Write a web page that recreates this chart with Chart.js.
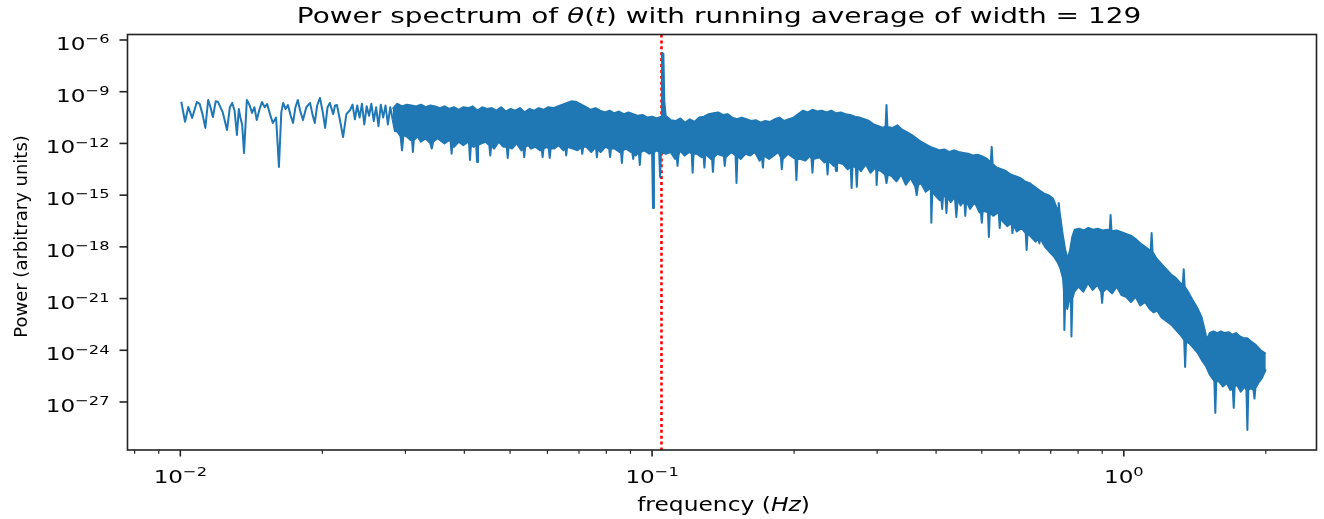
<!DOCTYPE html>
<html>
<head>
<meta charset="utf-8">
<title>Power spectrum</title>
<script src="https://cdn.jsdelivr.net/npm/chart.js@4.4.1/dist/chart.umd.min.js"></script>
<style>
  html, body { margin: 0; padding: 0; background: #fff; }
  #wrap { width: 1324px; height: 519px; }
</style>
</head>
<body>
<div id="wrap"><canvas id="spectrum"></canvas></div>
<script>
// each pair is [log10(frequency / Hz), log10(power)]

// sparse low-frequency part: the single wiggly trace
const lowFreqTrace = [
  [-1.998,-9.58],[-1.990,-10.74],[-1.983,-9.89],[-1.975,-10.52],[-1.965,-9.60],[-1.959,-9.71],[-1.953,-10.30],[-1.947,-11.10],[-1.941,-9.48],[-1.936,-9.90],
  [-1.931,-10.47],[-1.925,-9.55],[-1.920,-9.60],[-1.910,-10.20],[-1.901,-11.22],[-1.895,-9.90],[-1.890,-9.65],[-1.885,-10.10],[-1.880,-11.51],[-1.876,-10.00],
  [-1.873,-10.47],[-1.869,-10.90],[-1.865,-12.55],[-1.859,-9.48],[-1.853,-9.80],[-1.848,-10.23],[-1.843,-9.90],[-1.838,-10.64],[-1.832,-10.00],[-1.827,-9.60],
  [-1.821,-9.90],[-1.816,-9.71],[-1.810,-10.30],[-1.804,-10.81],[-1.797,-10.50],[-1.791,-13.37],[-1.786,-10.20],[-1.782,-9.65],[-1.777,-10.00],[-1.772,-9.77],
  [-1.766,-10.40],[-1.761,-10.81],[-1.756,-9.90],[-1.751,-9.48],[-1.746,-10.10],[-1.740,-10.64],[-1.733,-9.90],[-1.725,-9.65],[-1.720,-10.30],[-1.715,-10.81],
  [-1.710,-9.80],[-1.704,-9.36],[-1.698,-10.20],[-1.693,-11.10],[-1.688,-9.90],[-1.683,-9.65],[-1.676,-10.30],[-1.672,-9.80],[-1.668,-9.77],[-1.662,-10.60],
  [-1.655,-11.63],[-1.648,-10.30],[-1.640,-10.06],
  [-1.635,-9.75],[-1.630,-10.6],[-1.625,-9.8],[-1.620,-10.5],[-1.615,-9.7],[-1.610,-10.9],[-1.605,-9.85],[-1.600,-10.4],
  [-1.595,-9.7],[-1.590,-10.7],[-1.585,-9.9],[-1.580,-11.0],[-1.575,-9.75],[-1.570,-10.5],[-1.565,-9.8],[-1.560,-10.9],[-1.555,-9.9],[-1.550,-10.6]
];

// dense part: top edge of the band (with the upward spikes)
const bandUpper = [
  [-1.550,-10.0],[-1.540,-9.7],[-1.530,-9.85],[-1.520,-9.75],[-1.510,-9.8],[-1.500,-9.85],[-1.490,-9.75],[-1.480,-9.9],[-1.470,-9.8],[-1.460,-9.85],
  [-1.450,-9.95],[-1.440,-9.85],[-1.430,-10.0],[-1.420,-9.9],[-1.410,-10.05],[-1.400,-9.9],[-1.390,-9.95],[-1.380,-9.85],[-1.370,-10.1],[-1.360,-9.9],
  [-1.350,-10.0],[-1.340,-9.95],[-1.330,-10.1],[-1.320,-9.9],[-1.310,-10.15],[-1.300,-10.0],[-1.290,-10.1],[-1.280,-9.95],[-1.270,-10.2],[-1.260,-10.0],
  [-1.250,-10.1],[-1.240,-9.95],[-1.230,-10.05],[-1.220,-9.9],[-1.210,-9.95],[-1.200,-9.85],[-1.190,-9.75],[-1.180,-9.65],[-1.170,-9.55],[-1.160,-9.6],
  [-1.150,-9.75],[-1.140,-9.9],[-1.130,-10.05],[-1.120,-9.95],[-1.110,-10.1],[-1.100,-10.2],[-1.090,-10.1],[-1.080,-10.25],[-1.070,-10.15],[-1.060,-10.3],
  [-1.050,-10.2],[-1.040,-10.3],[-1.030,-10.4],[-1.020,-10.35],[-1.010,-10.5],[-1.000,-10.45],[-0.990,-10.55],[-0.981,-10.45],[-0.979,-6.75],[-0.976,-6.8],
  [-0.974,-9.6],[-0.971,-10.4],[-0.960,-10.65],[-0.950,-10.7],[-0.940,-10.55],[-0.930,-10.8],[-0.920,-10.6],[-0.910,-10.75],[-0.900,-10.5],[-0.890,-10.45],
  [-0.880,-10.3],[-0.870,-10.25],[-0.860,-10.2],[-0.850,-10.35],[-0.840,-10.3],[-0.830,-10.5],[-0.820,-10.6],[-0.810,-10.5],[-0.800,-10.6],[-0.790,-10.7],
  [-0.780,-10.65],[-0.770,-10.8],[-0.760,-10.7],[-0.750,-10.75],[-0.740,-10.6],[-0.730,-10.5],[-0.720,-10.7],[-0.710,-10.6],[-0.700,-10.5],[-0.690,-10.3],
  [-0.680,-10.1],[-0.670,-10.2],[-0.660,-10.05],[-0.650,-10.15],[-0.640,-10.1],[-0.630,-10.2],[-0.620,-10.1],[-0.610,-10.25],[-0.600,-10.2],[-0.590,-10.3],
  [-0.580,-10.35],[-0.570,-10.45],[-0.560,-10.5],[-0.550,-10.6],[-0.540,-10.7],[-0.530,-10.9],[-0.520,-11.0],[-0.510,-11.1],[-0.505,-11.0],[-0.503,-9.77],
  [-0.501,-11.05],[-0.490,-11.1],[-0.480,-10.95],[-0.470,-11.2],[-0.460,-11.35],[-0.450,-11.5],[-0.440,-11.7],[-0.430,-11.9],[-0.420,-12.05],[-0.410,-12.2],
  [-0.400,-12.3],[-0.390,-12.4],[-0.380,-12.35],[-0.370,-12.5],[-0.360,-12.4],[-0.350,-12.5],[-0.340,-12.55],[-0.330,-12.6],[-0.320,-12.7],[-0.310,-12.65],
  [-0.300,-12.75],[-0.290,-12.9],[-0.282,-13.1],[-0.280,-12.2],[-0.278,-13.2],[-0.270,-13.4],[-0.260,-13.5],[-0.250,-13.6],[-0.240,-13.8],[-0.230,-13.9],
  [-0.220,-14.0],[-0.210,-14.2],[-0.200,-14.3],[-0.190,-14.5],[-0.180,-14.7],[-0.170,-14.9],[-0.160,-15.0],[-0.150,-15.2],[-0.143,-15.7],[-0.139,-15.9],
  [-0.138,-15.45],[-0.136,-16.0],[-0.130,-17.2],[-0.124,-18.2],[-0.119,-18.7],[-0.114,-18.2],[-0.109,-17.4],[-0.104,-17.0],[-0.095,-16.95],[-0.085,-17.05],
  [-0.075,-16.9],[-0.065,-17.0],[-0.055,-16.95],[-0.045,-17.05],[-0.035,-17.0],[-0.030,-17.1],[-0.028,-16.15],[-0.026,-17.1],[-0.015,-17.05],[-0.005,-17.15],
  [0.005,-17.25],[0.015,-17.35],[0.025,-17.55],[0.035,-17.8],[0.045,-18.0],[0.055,-18.2],[0.057,-18.25],[0.059,-17.2],[0.061,-18.3],[0.070,-18.7],
  [0.080,-19.0],[0.090,-19.3],[0.100,-19.6],[0.110,-19.8],[0.120,-20.1],[0.125,-20.2],[0.127,-19.3],[0.129,-20.3],[0.138,-20.7],[0.146,-21.1],
  [0.155,-21.5],[0.165,-22.1],[0.172,-22.9],[0.176,-23.4],[0.182,-23.0],[0.190,-22.9],[0.198,-23.0],[0.206,-22.9],[0.214,-23.0],[0.222,-22.95],
  [0.230,-23.1],[0.238,-23.0],[0.246,-23.2],[0.254,-23.3],[0.262,-23.3],[0.270,-23.5],[0.280,-23.7],[0.290,-24.0],[0.301,-24.2]
];

// dense part: bottom edge of the band (with the downward spikes)
const bandLower = [
  [-1.550,-10.6],[-1.545,-11.3],[-1.540,-11.3],[-1.533,-11.6],[-1.530,-12.4],[-1.527,-11.5],[-1.520,-11.6],[-1.512,-11.8],[-1.509,-11.7],[-1.507,-12.5],
  [-1.505,-11.8],[-1.497,-11.6],[-1.490,-11.9],[-1.480,-11.7],[-1.470,-12.0],[-1.467,-12.3],[-1.464,-11.9],[-1.455,-11.7],
  [-1.450,-11.8],[-1.440,-12.0],[-1.430,-11.8],[-1.427,-11.9],[-1.425,-12.6],[-1.423,-11.9],[-1.420,-12.2],[-1.410,-11.9],[-1.400,-12.1],[-1.390,-11.9],
  [-1.388,-12.0],[-1.386,-12.96],[-1.384,-12.1],[-1.378,-12.2],[-1.373,-12.0],[-1.371,-13.08],[-1.369,-12.1],[-1.362,-12.0],[-1.353,-11.9],[-1.345,-12.1],
  [-1.343,-12.7],[-1.341,-12.1],[-1.335,-12.3],[-1.325,-11.9],[-1.315,-12.2],[-1.308,-12.2],[-1.306,-12.84],[-1.304,-12.2],[-1.297,-12.3],[-1.287,-12.0],
  [-1.277,-12.4],[-1.273,-12.2],[-1.271,-12.8],[-1.269,-12.2],[-1.262,-12.1],[-1.257,-12.3],[-1.247,-12.2],[-1.237,-12.4],[-1.234,-12.3],[-1.232,-12.79],
  [-1.230,-12.3],[-1.223,-12.2],[-1.219,-12.3],[-1.217,-12.84],[-1.215,-12.3],[-1.208,-12.3],[-1.198,-12.1],[-1.188,-12.4],[-1.184,-12.2],[-1.182,-12.7],
  [-1.180,-12.2],[-1.168,-12.3],[-1.158,-12.4],[-1.150,-12.2],[-1.148,-12.6],[-1.146,-12.2],[-1.139,-12.2],[-1.129,-12.5],[-1.119,-12.2],[-1.117,-12.8],
  [-1.115,-12.3],[-1.109,-12.5],[-1.099,-12.2],[-1.091,-12.3],[-1.089,-12.79],[-1.087,-12.3],[-1.079,-12.3],[-1.069,-12.5],[-1.066,-12.4],[-1.064,-13.13],
  [-1.062,-12.4],[-1.055,-12.3],[-1.045,-12.5],[-1.042,-12.5],[-1.040,-12.9],[-1.038,-12.5],[-1.035,-12.7],[-1.028,-12.5],[-1.026,-13.25],[-1.024,-12.5],
  [-1.016,-12.4],[-1.006,-12.6],[-1.000,-12.5],[-0.998,-15.74],[-0.996,-12.5],
  [-0.990,-12.4],[-0.985,-12.5],[-0.983,-13.95],[-0.981,-12.5],[-0.971,-12.6],[-0.961,-12.5],[-0.951,-12.9],[-0.948,-12.7],[-0.946,-13.3],[-0.944,-12.7],
  [-0.941,-12.4],[-0.931,-12.7],[-0.921,-12.5],[-0.916,-12.6],[-0.914,-13.7],[-0.912,-12.6],[-0.905,-12.6],[-0.895,-12.8],[-0.891,-12.7],[-0.889,-13.4],
  [-0.887,-12.6],[-0.875,-12.9],[-0.873,-12.8],[-0.871,-13.65],[-0.869,-12.8],[-0.862,-12.6],[-0.852,-12.7],[-0.848,-12.7],[-0.846,-13.3],[-0.844,-12.8],
  [-0.832,-12.5],[-0.823,-12.7],[-0.821,-14.29],[-0.819,-12.7],[-0.812,-12.9],[-0.802,-12.6],[-0.792,-12.7],[-0.782,-12.5],[-0.772,-13.0],[-0.767,-12.8],
  [-0.765,-13.4],[-0.763,-12.7],[-0.752,-12.9],[-0.742,-12.7],[-0.732,-12.5],[-0.727,-12.8],[-0.725,-13.5],[-0.723,-12.9],[-0.712,-12.6],[-0.702,-12.8],
  [-0.696,-12.9],[-0.694,-14.12],[-0.692,-12.9],[-0.685,-12.9],[-0.675,-13.0],[-0.665,-12.7],[-0.662,-12.9],[-0.660,-13.7],[-0.658,-12.9],[-0.645,-12.8],
  [-0.635,-13.1],[-0.630,-13.0],[-0.628,-13.8],[-0.626,-13.0],[-0.615,-13.3],[-0.612,-13.2],[-0.610,-13.6],[-0.608,-13.1],[-0.595,-13.2],[-0.585,-13.5],
  [-0.579,-13.3],[-0.577,-14.58],[-0.575,-13.3],[-0.568,-13.4],[-0.566,-14.52],[-0.564,-13.4],[-0.557,-13.6],[-0.547,-13.2],[-0.537,-13.7],[-0.527,-13.4],
  [-0.525,-13.5],[-0.524,-14.41],[-0.522,-13.5],[-0.515,-13.6],[-0.506,-13.8],[-0.503,-14.3],[-0.500,-13.8],
  [-0.492,-13.9],[-0.482,-14.2],[-0.472,-13.8],[-0.462,-14.4],[-0.452,-14.0],[-0.442,-14.5],[-0.439,-15.0],[-0.436,-14.4],[-0.430,-14.3],[-0.420,-14.8],
  [-0.411,-14.6],[-0.409,-14.7],[-0.408,-16.6],[-0.406,-14.8],[-0.400,-15.0],[-0.390,-15.3],[-0.387,-15.1],[-0.385,-15.8],[-0.383,-15.0],[-0.378,-15.1],
  [-0.376,-16.03],[-0.374,-15.1],[-0.367,-15.4],[-0.358,-15.1],[-0.355,-16.27],[-0.352,-15.2],[-0.346,-15.6],[-0.338,-15.3],[-0.336,-16.2],[-0.334,-15.3],
  [-0.326,-15.8],[-0.316,-15.4],[-0.306,-16.0],[-0.303,-15.9],[-0.301,-16.6],[-0.299,-15.9],[-0.288,-16.0],[-0.286,-17.43],[-0.284,-16.0],[-0.277,-16.2],
  [-0.267,-16.0],[-0.265,-16.1],[-0.263,-16.9],[-0.261,-16.2],[-0.257,-16.5],[-0.247,-16.8],[-0.238,-16.6],[-0.236,-17.2],[-0.234,-16.7],[-0.227,-17.1],
  [-0.217,-16.9],[-0.208,-17.2],[-0.206,-18.18],[-0.204,-17.2],[-0.197,-17.4],[-0.187,-17.7],[-0.181,-17.5],[-0.179,-17.8],[-0.177,-17.5],[-0.167,-18.0],
  [-0.157,-18.3],[-0.147,-18.6],[-0.140,-18.9],[-0.135,-19.2],[-0.129,-19.8],[-0.127,-20.5],[-0.126,-22.82],[-0.124,-21.0],[-0.120,-21.6],[-0.114,-20.9],
  [-0.112,-21.2],[-0.111,-23.2],[-0.109,-21.0],[-0.105,-20.6],[-0.096,-20.3],[-0.086,-20.6],[-0.076,-20.1],[-0.066,-20.5],[-0.056,-20.2],[-0.048,-20.6],
  [-0.046,-21.25],[-0.044,-20.6],[-0.036,-20.4],[-0.025,-20.7],[-0.015,-20.3],[-0.005,-20.8],[0.005,-20.9],[0.015,-21.2],[0.025,-20.9],[0.035,-21.4],
  [0.045,-21.2],[0.055,-21.6],[0.063,-21.8],[0.071,-21.7],[0.080,-22.1],[0.090,-22.3],[0.100,-22.5],[0.110,-22.8],[0.120,-23.1],[0.128,-23.4],
  [0.130,-24.97],[0.132,-23.5],[0.139,-23.6],[0.149,-23.9],[0.158,-24.2],[0.166,-24.6],[0.174,-24.9],[0.182,-25.4],[0.190,-25.7],[0.192,-25.8],
  [0.194,-27.63],[0.196,-25.8],[0.202,-25.8],[0.210,-26.1],[0.218,-25.9],[0.226,-26.3],[0.231,-26.2],[0.233,-27.34],[0.235,-26.1],[0.240,-26.0],
  [0.248,-26.4],[0.256,-26.1],[0.260,-26.3],[0.262,-28.62],[0.264,-26.3],[0.269,-26.2],[0.275,-26.3],[0.277,-26.8],[0.279,-26.2],[0.285,-25.9],
  [0.293,-25.6],[0.301,-25.1]
];

// axes
const yTickExps = [-6, -9, -12, -15, -18, -21, -24, -27];
const xMajorExps = [-2, -1, 0];
const xMinorTicks = [0.008, 0.009, 0.02, 0.03, 0.04, 0.05, 0.06, 0.07, 0.08, 0.09,
                     0.2, 0.3, 0.4, 0.5, 0.6, 0.7, 0.8, 0.9, 2];
const xRangeLog = [-2.112, 0.4085];
const yRangeLog = [-29.785, -5.681];
const markerFreq = 0.1047; // red dotted line

const FONT = '"DejaVu Sans", sans-serif';
const BLUE = '#1f77b4';

const toPoints = arr => arr.map(p => ({ x: Math.pow(10, p[0]), y: Math.pow(10, p[1]) }));

// text with mixed upright/italic/superscript pieces
function drawRich(ctx, parts, x, y, align, stretch) {
    ctx.save();
    let total = 0;
    parts.forEach(p => {
        ctx.font = (p.italic ? 'italic ' : '') + p.size + 'px ' + FONT;
        p.w = ctx.measureText(p.text).width;
        total += p.w;
    });
    ctx.translate(x, y);
    ctx.scale(stretch, 1);
    let cx = align === 'center' ? -total / 2 : (align === 'right' ? -total : 0);
    ctx.textAlign = 'left';
    ctx.textBaseline = 'alphabetic';
    ctx.fillStyle = '#000';
    parts.forEach(p => {
        ctx.font = (p.italic ? 'italic ' : '') + p.size + 'px ' + FONT;
        ctx.fillText(p.text, cx, -(p.rise || 0));
        cx += p.w;
    });
    ctx.restore();
}

function powerLabel(exp) {
    const sup = exp < 0 ? '\u2212' + Math.abs(exp) : String(exp);
    return [{ text: '10', size: 18.5 }, { text: sup, size: 13, rise: 6.7 }];
}

const markerLine = {
    id: 'markerLine',
    beforeDatasetsDraw(chart) {
        const { ctx, chartArea, scales } = chart;
        const x = scales.x.getPixelForValue(markerFreq);
        ctx.save();
        ctx.strokeStyle = '#ff0000';
        ctx.lineWidth = 2.6;
        ctx.setLineDash([3, 2.9]);
        ctx.beginPath();
        ctx.moveTo(x, chartArea.top);
        ctx.lineTo(x, chartArea.bottom);
        ctx.stroke();
        ctx.restore();
    }
};

const mplFrame = {
    id: 'mplFrame',
    afterDraw(chart) {
        const { ctx, chartArea: a, scales } = chart;
        ctx.save();
        ctx.strokeStyle = '#222';
        ctx.lineWidth = 1.6;
        ctx.strokeRect(a.left, a.top, a.right - a.left, a.bottom - a.top);

        // y ticks
        scales.y.ticks.forEach(t => {
            const y = scales.y.getPixelForValue(t.value);
            ctx.beginPath();
            ctx.moveTo(a.left - 8, y);
            ctx.lineTo(a.left, y);
            ctx.stroke();
            drawRich(ctx, powerLabel(Math.round(Math.log10(t.value))), a.left - 18, y + 10, 'right', 1.25);
        });

        // x ticks
        scales.x.ticks.forEach(t => {
            const x = scales.x.getPixelForValue(t.value);
            ctx.lineWidth = t.major ? 1.6 : 1.2;
            ctx.beginPath();
            ctx.moveTo(x, a.bottom);
            ctx.lineTo(x, a.bottom + (t.major ? 6.5 : 3.8));
            ctx.stroke();
            if (t.major) {
                drawRich(ctx, powerLabel(Math.round(Math.log10(t.value))), x, a.bottom + 32.7, 'center', 1.25);
            }
        });

        // title and axis labels
        drawRich(ctx, [
            { text: 'Power spectrum of ', size: 22 },
            { text: 'θ', size: 22, italic: true },
            { text: '(', size: 22 },
            { text: 't', size: 22, italic: true },
            { text: ') with running average of width = 129', size: 22 }
        ], 719, 23.3, 'center', 1.27);

        drawRich(ctx, [
            { text: 'frequency (', size: 19 },
            { text: 'Hz', size: 19, italic: true },
            { text: ')', size: 19 }
        ], 723.5, 511, 'center', 1.23);

        ctx.save();
        ctx.translate(26.7, 236.5);
        ctx.rotate(-Math.PI / 2);
        drawRich(ctx, [{ text: 'Power (arbitrary units)', size: 18 }], 0, 0, 'center', 1);
        ctx.restore();

        ctx.restore();
    }
};

const lineStyle = {
    borderColor: BLUE,
    borderWidth: 2,
    pointRadius: 0,
    tension: 0,
    borderJoinStyle: 'round'
};

window.onload = () => {
    new Chart(document.getElementById('spectrum'), {
        type: 'line',
        data: {
            datasets: [
                { ...lineStyle, data: toPoints(lowFreqTrace), fill: false },
                { ...lineStyle, data: toPoints(bandUpper), fill: '+1', backgroundColor: BLUE },
                { ...lineStyle, data: toPoints(bandLower), fill: false }
            ]
        },
        options: {
            responsive: true,
            maintainAspectRatio: false,
            animation: false,
            events: [],
            layout: { padding: { top: 34.5, right: 7.5, left: 0, bottom: 0 } },
            plugins: {
                legend: { display: false },
                title: { display: false },
                tooltip: { enabled: false }
            },
            scales: {
                x: {
                    type: 'logarithmic',
                    min: Math.pow(10, xRangeLog[0]),
                    max: Math.pow(10, xRangeLog[1]),
                    ticks: { display: false },
                    grid: { display: false },
                    border: { display: false },
                    afterBuildTicks: s => {
                        s.ticks = xMajorExps.map(e => ({ value: Math.pow(10, e), major: true }))
                            .concat(xMinorTicks.map(v => ({ value: v, major: false })));
                    },
                    afterFit: s => { s.height = 69; }
                },
                y: {
                    type: 'logarithmic',
                    min: Math.pow(10, yRangeLog[0]),
                    max: Math.pow(10, yRangeLog[1]),
                    ticks: { display: false },
                    grid: { display: false },
                    border: { display: false },
                    afterBuildTicks: s => {
                        s.ticks = yTickExps.map(e => ({ value: Math.pow(10, e), major: true }));
                    },
                    afterFit: s => { s.width = 127.5; }
                }
            }
        },
        plugins: [markerLine, mplFrame]
    });
};
</script>
</body>
</html>
